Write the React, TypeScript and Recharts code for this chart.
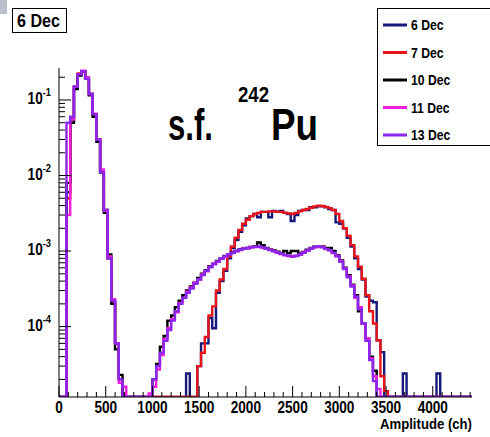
import React from 'react';
import { LineChart, Line, XAxis, YAxis, Legend } from 'recharts';

// histogram: 40-channel bins from 0, values = normalised counts (0 = empty bin)
const BIN_WIDTH = 40;
const X_MAX = 4420;
const Y_MIN = 1.17e-5;
const Y_MAX = 0.265;

const seriesNames = ['6 Dec', '7 Dec', '10 Dec', '11 Dec', '13 Dec'];
const seriesKeys = ['d6', 'd7', 'd10', 'd11', 'd13'];
const seriesColors = ['#16197a', '#e8141c', '#000000', '#f01edc', '#8a26ee'];

const dec6 = [
    0, 0, 6e-3, 0.055, 0.15, 0.22, 0.24, 0.19, 0.12, 0.065,
    0.03, 0.011, 3.5e-3, 8e-4, 2.2e-4, 6e-5, 2e-5, 0, 0, 0,
    0, 0, 0, 0, 0, 0, 0, 0, 0, 0,
    0, 0, 0, 0, 2.4e-5, 0, 0, 3e-5, 6e-5, 6e-5,
    1.3e-4, 9.5e-5, 2.8e-4, 4e-4, 5.5e-4, 8e-4, 1.1e-3, 1.4e-3, 1.8e-3, 2.2e-3,
    2.7e-3, 2.9e-3, 3.1e-3, 2.8e-3, 3.3e-3, 3.3e-3, 2.8e-3, 3.4e-3, 3.3e-3, 3.4e-3,
    3.2e-3, 3.1e-3, 2.5e-3, 3e-3, 3.4e-3, 3.5e-3, 3.5e-3, 3.8e-3, 3.8e-3, 3.9e-3,
    3.9e-3, 3.8e-3, 3.6e-3, 3.5e-3, 2.4e-3, 2.3e-3, 2e-3, 1.5e-3, 1.15e-3, 8e-4,
    5.8e-4, 4.2e-4, 2.5e-4, 2.2e-4, 2.1e-4, 6.6e-5, 4.6e-5, 0, 0, 0,
    0, 0, 2.4e-5, 0, 0, 0, 0, 0, 0, 0,
    0, 2.4e-5, 0, 0, 0, 0, 0, 0, 0, 0,
];

const dec7 = [
    0, 0, 5e-3, 0.055, 0.15, 0.225, 0.24, 0.19, 0.12, 0.064,
    0.03, 0.0115, 3.5e-3, 8e-4, 2.1e-4, 6e-5, 2e-5, 0, 0, 0,
    0, 0, 0, 0, 0, 0, 0, 0, 0, 0,
    0, 0, 0, 0, 0, 0, 0, 3e-5, 4.5e-5, 7.3e-5,
    1.4e-4, 1.85e-4, 3e-4, 4.2e-4, 5.8e-4, 8.5e-4, 1.15e-3, 1.5e-3, 1.9e-3, 2.3e-3,
    2.6e-3, 2.9e-3, 3.1e-3, 3.2e-3, 3.3e-3, 3.3e-3, 3.35e-3, 3.35e-3, 3.3e-3, 3.3e-3,
    3.2e-3, 3.15e-3, 3.1e-3, 3.2e-3, 3.35e-3, 3.5e-3, 3.6e-3, 3.75e-3, 3.9e-3, 4e-3,
    3.95e-3, 3.85e-3, 3.7e-3, 3.5e-3, 3.1e-3, 2.5e-3, 2e-3, 1.6e-3, 1.2e-3, 8.5e-4,
    6.2e-4, 4.3e-4, 2.6e-4, 1.6e-4, 1.1e-4, 6.6e-5, 2.2e-5, 1.4e-5, 0, 0,
    0, 0, 0, 0, 0, 0, 0, 0, 0, 0,
    0, 0, 0, 0, 0, 0, 0, 0, 0, 0,
];

const dec10 = [
    0, 0, 8e-3, 0.05, 0.14, 0.21, 0.24, 0.19, 0.115, 0.06,
    0.028, 0.011, 3.2e-3, 9e-4, 2e-4, 5e-5, 2.3e-5, 0, 0, 0,
    0, 0, 0, 0, 0, 2e-5, 3.2e-5, 5.4e-5, 7.5e-5, 1.2e-4,
    1.4e-4, 1.8e-4, 2.2e-4, 2.6e-4, 3e-4, 3.4e-4, 3.8e-4, 4.4e-4, 5e-4, 5.6e-4,
    6.3e-4, 6.8e-4, 7.4e-4, 8e-4, 8.6e-4, 9.1e-4, 9.6e-4, 1e-3, 1.05e-3, 1.08e-3,
    1.1e-3, 1.13e-3, 1.15e-3, 1.3e-3, 1.2e-3, 1.1e-3, 1.05e-3, 1.02e-3, 9.8e-4, 9.4e-4,
    1e-3, 9.4e-4, 1e-3, 1e-3, 9.3e-4, 9.7e-4, 1.04e-3, 1.1e-3, 1.14e-3, 1.16e-3,
    1.15e-3, 1.1e-3, 1.1e-3, 1e-3, 8.8e-4, 7.5e-4, 6e-4, 4.8e-4, 3.6e-4, 2.6e-4,
    1.6e-4, 1.1e-4, 7e-5, 4e-5, 2.6e-5, 0, 0, 0, 0, 0,
    0, 0, 0, 0, 0, 0, 0, 0, 0, 0,
    0, 0, 0, 0, 0, 0, 0, 0, 0, 0,
];

const dec11 = [
    0, 0, 3e-3, 0.055, 0.15, 0.22, 0.245, 0.2, 0.12, 0.066,
    0.03, 0.012, 3.4e-3, 8.5e-4, 2.3e-4, 6e-5, 1.8e-5, 1.6e-5, 0, 0,
    0, 0, 0, 0, 1.3e-5, 1.6e-5, 2.7e-5, 4.2e-5, 6.8e-5, 9.5e-5,
    1.25e-4, 1.55e-4, 2.05e-4, 2.4e-4, 2.9e-4, 3.3e-4, 3.8e-4, 4.2e-4, 4.9e-4, 5.4e-4,
    6.2e-4, 6.8e-4, 7.2e-4, 8e-4, 8.4e-4, 9.1e-4, 9.4e-4, 1e-3, 1.03e-3, 1.08e-3,
    1.09e-3, 1.13e-3, 1.13e-3, 1.14e-3, 1.11e-3, 1.07e-3, 1.04e-3, 9.9e-4, 9.5e-4, 9.1e-4,
    8.8e-4, 8.7e-4, 8.4e-4, 8.7e-4, 8.9e-4, 9.6e-4, 1.01e-3, 1.09e-3, 1.12e-3, 1.16e-3,
    1.13e-3, 1.06e-3, 1.03e-3, 9.4e-4, 8.6e-4, 7.3e-4, 5.9e-4, 4.6e-4, 3.5e-4, 2.4e-4,
    1.8e-4, 1.1e-4, 7e-5, 3.8e-5, 2.2e-5, 1.5e-5, 0, 0, 0, 0,
    0, 0, 0, 0, 0, 0, 0, 0, 0, 0,
    0, 0, 0, 0, 0, 0, 0, 0, 0, 0,
];

const dec13 = [
    0, 0, 0.05, 0.06, 0.15, 0.22, 0.24, 0.19, 0.12, 0.065,
    0.03, 0.011, 3.5e-3, 8e-4, 2.2e-4, 6e-5, 2e-5, 0, 0, 0,
    0, 0, 0, 0, 0, 2e-5, 3e-5, 4.5e-5, 6.5e-5, 9e-5,
    1.2e-4, 1.6e-4, 2e-4, 2.4e-4, 2.8e-4, 3.2e-4, 3.7e-4, 4.2e-4, 4.8e-4, 5.5e-4,
    6.1e-4, 6.7e-4, 7.3e-4, 7.9e-4, 8.5e-4, 9e-4, 9.5e-4, 1e-3, 1.04e-3, 1.07e-3,
    1.1e-3, 1.12e-3, 1.14e-3, 1.15e-3, 1.12e-3, 1.08e-3, 1.03e-3, 1e-3, 9.6e-4, 9.2e-4,
    8.9e-4, 8.6e-4, 8.5e-4, 8.6e-4, 9e-4, 9.5e-4, 1.02e-3, 1.08e-3, 1.13e-3, 1.15e-3,
    1.12e-3, 1.07e-3, 1.02e-3, 9.5e-4, 8.5e-4, 7.2e-4, 5.8e-4, 4.5e-4, 3.4e-4, 2.5e-4,
    1.7e-4, 1.1e-4, 6.5e-5, 3.6e-5, 1.9e-5, 0, 0, 0, 0, 0,
    0, 0, 0, 0, 0, 0, 0, 0, 0, 0,
    0, 0, 0, 0, 0, 0, 0, 0, 0, 0,
];

const seriesValues = [dec6, dec7, dec10, dec11, dec13];

const xLabelTicks = [0, 500, 1000, 1500, 2000, 2500, 3000, 3500, 4000];
const yDecades = [1e-5, 1e-4, 1e-3, 1e-2, 1e-1];

const FONT = "'Liberation Sans', Arial, Helvetica, sans-serif";

// last point closes the final bin for the step line
const data = (() => {
    const rows: Record<string, number>[] = [];
    const n = dec6.length;
    for (let i = 0; i <= n; i++) {
        const j = Math.min(i, n - 1);
        const row: Record<string, number> = { ch: i < n ? i * BIN_WIDTH : X_MAX };
        seriesKeys.forEach((k, s) => {
            const v = seriesValues[s][j];
            row[k] = v > 0 ? v : Y_MIN; // empty bins sit on the axis, like ROOT
        });
        rows.push(row);
    }
    return rows;
})();

const xTicks: number[] = [];
for (let v = 0; v <= 4400; v += 100) xTicks.push(v);

const yTicks: number[] = [];
yDecades.forEach((d) => {
    for (let m = 1; m <= 9; m++) {
        const v = Number((d * m).toPrecision(3));
        if (v >= Y_MIN && v <= Y_MAX) yTicks.push(v);
    }
});

const isDecade = (v: number) => Math.abs(Math.log10(v) - Math.round(Math.log10(v))) < 1e-6;

// the original uses a condensed Helvetica: squeeze the bold sans horizontally
function NText({ x, y, sx = 0.85, children, ...rest }: any) {
    return (
        <text
            transform={`translate(${x},${y}) scale(${sx},1)`}
            x={0}
            y={0}
            fontFamily={FONT}
            fontWeight="bold"
            fill="#000"
            {...rest}
        >
            {children}
        </text>
    );
}

function BottomTick(props: any) {
    const { x, y, payload } = props;
    const v = payload.value;
    const major = v % 500 === 0;
    return (
        <g>
            <line x1={x} x2={x} y1={y} y2={y - (major ? 11 : 5)} stroke="#000" />
            {major && xLabelTicks.includes(v) && (
                <NText x={x} y={y + 16} textAnchor="middle" fontSize={16}>
                    {v}
                </NText>
            )}
        </g>
    );
}

function TopTick(props: any) {
    const { x, y, payload } = props;
    const major = payload.value % 500 === 0;
    return <line x1={x} x2={x} y1={y} y2={y + (major ? 9 : 4)} stroke="#000" />;
}

function LeftTick(props: any) {
    const { x, y, payload } = props;
    const v = payload.value;
    const major = isDecade(v);
    const exp = Math.round(Math.log10(v));
    return (
        <g>
            <line x1={x} x2={x + (major ? 12 : 6)} y1={y} y2={y} stroke="#000" />
            {major && exp > -5 && (
                <NText x={x - 8} y={y + 4} textAnchor="end" fontSize={16}>
                    10
                    <tspan dy={-8} fontSize={11}>{exp}</tspan>
                </NText>
            )}
        </g>
    );
}

function RightTick(props: any) {
    const { x, y, payload } = props;
    const major = isDecade(payload.value);
    return <line x1={x} x2={x - (major ? 12 : 6)} y1={y} y2={y} stroke="#000" />;
}

function LegendBox() {
    return (
        <svg width={130} height={139} style={{ display: 'block' }}>
            <rect x={0.5} y={0.5} width={128} height={137} fill="#fff" stroke="#000" />
            {seriesNames.map((name, i) => {
                const cy = 17 + i * 27.5;
                return (
                    <g key={name}>
                        <line x1={6} x2={30} y1={cy} y2={cy} stroke={seriesColors[i]} strokeWidth={3} />
                        <NText x={34} y={cy + 5} fontSize={14.5} sx={0.84}>
                            {name}
                        </NText>
                    </g>
                );
            })}
        </svg>
    );
}

export default function App() {
    return (
        <div style={{ position: 'absolute', left: 0, top: 0, width: 490, height: 437, overflow: 'hidden', background: '#fff' }}>
            <LineChart width={490} height={437} data={data} margin={{ top: 68, right: 18, bottom: 0, left: 0 }}>
                <XAxis
                    xAxisId="b"
                    dataKey="ch"
                    type="number"
                    domain={[0, X_MAX]}
                    allowDataOverflow
                    ticks={xTicks}
                    interval={0}
                    height={40}
                    tickLine={false}
                    tickSize={0}
                    tickMargin={0}
                    axisLine={{ stroke: '#000' }}
                    tick={(p: any) => <BottomTick {...p} />}
                />
                <XAxis
                    xAxisId="t"
                    orientation="top"
                    dataKey="ch"
                    type="number"
                    domain={[0, X_MAX]}
                    allowDataOverflow
                    ticks={xTicks}
                    interval={0}
                    height={0}
                    tickLine={false}
                    tickSize={0}
                    tickMargin={0}
                    axisLine={{ stroke: '#000' }}
                    tick={(p: any) => <TopTick {...p} />}
                />
                <YAxis
                    yAxisId="l"
                    scale="log"
                    type="number"
                    domain={[Y_MIN, Y_MAX]}
                    allowDataOverflow
                    ticks={yTicks}
                    interval={0}
                    width={59}
                    tickLine={false}
                    tickSize={0}
                    tickMargin={0}
                    axisLine={{ stroke: '#000' }}
                    tick={(p: any) => <LeftTick {...p} />}
                />
                <YAxis
                    yAxisId="r"
                    orientation="right"
                    scale="log"
                    type="number"
                    domain={[Y_MIN, Y_MAX]}
                    allowDataOverflow
                    ticks={yTicks}
                    interval={0}
                    width={0}
                    tickLine={false}
                    tickSize={0}
                    tickMargin={0}
                    axisLine={{ stroke: '#000' }}
                    tick={(p: any) => <RightTick {...p} />}
                />
                <Legend
                    layout="vertical"
                    align="center"
                    verticalAlign="middle"
                    wrapperStyle={{ left: 377, top: 8, width: 130, height: 139 }}
                    content={() => <LegendBox />}
                />
                {seriesKeys.map((k, i) => (
                    <Line
                        key={k}
                        xAxisId="b"
                        yAxisId="l"
                        type="stepAfter"
                        dataKey={k}
                        name={seriesNames[i]}
                        stroke={seriesColors[i]}
                        strokeWidth={2.4}
                        dot={false}
                        activeDot={false}
                        isAnimationActive={false}
                    />
                ))}
            </LineChart>
            <svg width={490} height={437} style={{ position: 'absolute', left: 0, top: 0, pointerEvents: 'none' }}>
                <rect x={0} y={0} width={7} height={14} fill="#b9c0cc" />
                <rect x={12.5} y={8.5} width={54} height={24} fill="#fff" stroke="#000" />
                <text x={17} y={27} textLength={43} lengthAdjust="spacingAndGlyphs" fontFamily={FONT} fontWeight="bold" fontSize={18}>
                    6 Dec
                </text>
                <text x={168} y={140} textLength={45} lengthAdjust="spacingAndGlyphs" fontFamily={FONT} fontWeight="bold" fontSize={45}>
                    s.f.
                </text>
                <text x={238} y={102} textLength={31} lengthAdjust="spacingAndGlyphs" fontFamily={FONT} fontWeight="bold" fontSize={22}>
                    242
                </text>
                <text x={271} y={140} textLength={47} lengthAdjust="spacingAndGlyphs" fontFamily={FONT} fontWeight="bold" fontSize={45}>
                    Pu
                </text>
                <text x={380} y={429} textLength={92} lengthAdjust="spacingAndGlyphs" fontFamily={FONT} fontWeight="bold" fontSize={15}>
                    Amplitude (ch)
                </text>
            </svg>
        </div>
    );
}
